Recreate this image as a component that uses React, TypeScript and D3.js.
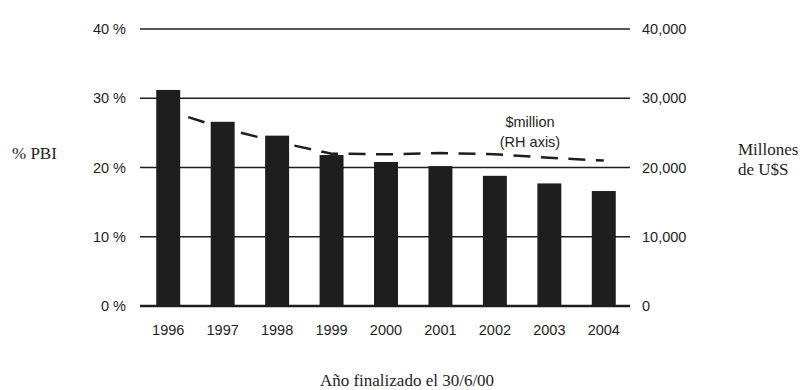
import React from 'react';
import * as d3 from 'd3';

const years = ['1996', '1997', '1998', '1999', '2000', '2001', '2002', '2003', '2004'];
const pctGDP = [31.2, 26.6, 24.6, 21.8, 20.8, 20.2, 18.8, 17.7, 16.6];
const usdMillions = [28200, 25700, 23700, 22000, 21900, 22100, 21900, 21400, 21000];
const leftTicks = [0, 10, 20, 30, 40];
const rightTicks = [0, 10000, 20000, 30000, 40000];

const W = 808;
const H = 390;
const sans = '"Liberation Sans", Arial, sans-serif';
const serif = '"Liberation Serif", "Times New Roman", serif';
const ink = '#1e1e1e';

export default function App() {
  const x = d3.scaleBand<string>().domain(years).range([141, 631]).paddingInner(0.56).paddingOuter(0.28);
  const yL = d3.scaleLinear().domain([0, 40]).range([306, 29]);
  const yR = d3.scaleLinear().domain([0, 40000]).range([306, 29]);
  const cx = (y: string) => (x(y) as number) + x.bandwidth() / 2;

  const line = d3
    .line<number>()
    .x((_, i) => cx(years[i]))
    .y((d) => yR(d));

  const fmt = d3.format(',');

  return (
    <svg width={W} height={H} style={{ position: 'absolute', left: 0, top: 0, background: '#fff' }}>
      {/* gridlines */}
      {leftTicks.map((t) => (
        <line
          key={t}
          x1={140}
          x2={630}
          y1={yL(t)}
          y2={yL(t)}
          stroke={ink}
          strokeWidth={t === 0 ? 2.6 : 1.5}
        />
      ))}
      {/* left tick labels */}
      {leftTicks.map((t) => (
        <text
          key={'l' + t}
          x={126}
          y={yL(t)}
          dy="0.35em"
          textAnchor="end"
          fontFamily={sans}
          fontSize={14.5}
          fill={ink}
        >
          {t + ' %'}
        </text>
      ))}
      {/* right tick labels */}
      {rightTicks.map((t) => (
        <text
          key={'r' + t}
          x={642}
          y={yR(t)}
          dy="0.35em"
          textAnchor="start"
          fontFamily={sans}
          fontSize={14.5}
          fill={ink}
        >
          {fmt(t)}
        </text>
      ))}
      {/* dashed line (RH axis) */}
      <path
        d={line(usdMillions) as string}
        fill="none"
        stroke={ink}
        strokeWidth={2.5}
        strokeDasharray="17 10.5"
        strokeDashoffset={6.5}
      />
      {/* bars */}
      {years.map((y, i) => (
        <rect
          key={y}
          x={x(y)}
          y={yL(pctGDP[i])}
          width={x.bandwidth()}
          height={yL(0) - yL(pctGDP[i])}
          fill={ink}
        />
      ))}
      {/* year labels */}
      {years.map((y) => (
        <text
          key={'t' + y}
          x={cx(y)}
          y={330}
          dy="0.35em"
          textAnchor="middle"
          fontFamily={sans}
          fontSize={14.5}
          fill={ink}
        >
          {y}
        </text>
      ))}
      {/* annotation */}
      <text x={530} y={122} dy="0.35em" textAnchor="middle" fontFamily={sans} fontSize={14.5} fill={ink}>
        $million
      </text>
      <text x={530} y={142} dy="0.35em" textAnchor="middle" fontFamily={sans} fontSize={14.5} fill={ink}>
        (RH axis)
      </text>
      {/* axis titles */}
      <text x={12} y={159} fontFamily={serif} fontSize={17} fill={ink}>
        % PBI
      </text>
      <text x={738} y={155} fontFamily={serif} fontSize={17} fill={ink}>
        Millones
      </text>
      <text x={738} y={175} fontFamily={serif} fontSize={17} fill={ink}>
        de U$S
      </text>
      <text x={407} y={386} textAnchor="middle" fontFamily={serif} fontSize={17} fill={ink}>
        Año finalizado el 30/6/00
      </text>
    </svg>
  );
}
